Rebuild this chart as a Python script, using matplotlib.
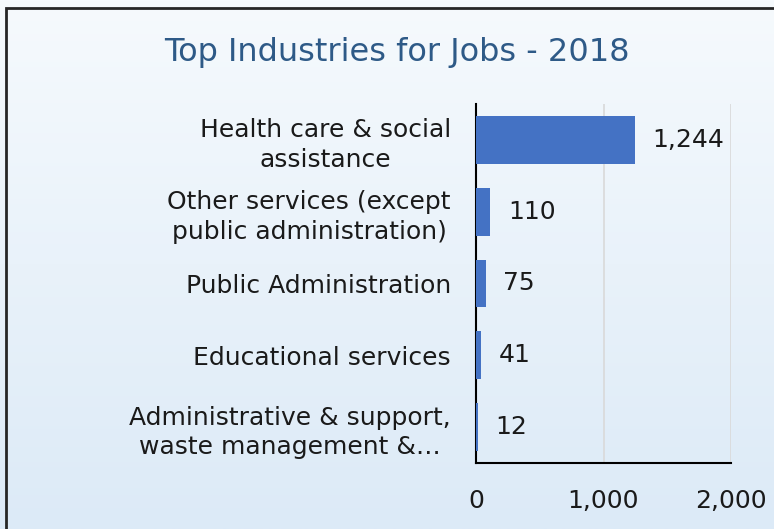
import matplotlib
matplotlib.use('Agg')
import matplotlib.pyplot as plt
import numpy as np
from matplotlib.patches import Rectangle

categories = ['Health care & social\nassistance',
              'Other services (except\npublic administration)',
              'Public Administration',
              'Educational services',
              'Administrative & support,\nwaste management &\u2026']
jobs = [1244, 110, 75, 41, 12]
xticks = [0, 1000, 2000]

plt.rcParams['font.family'] = ['DejaVu Sans']

fig = plt.figure(figsize=(7.74, 5.29), dpi=100)
W, H = 774, 529

# light blue vertical gradient background
bg = fig.add_axes([0, 0, 1, 1], zorder=-10)
grad = np.linspace(0, 1, 256).reshape(-1, 1)
top = np.array([246, 250, 253]) / 255
bot = np.array([220, 234, 247]) / 255
img = top[None, None, :] * (1 - grad[:, :, None]) + bot[None, None, :] * grad[:, :, None]
bg.imshow(img, aspect='auto', extent=[0, 1, 0, 1])
bg.axis('off')

# frame border (continues past right and bottom edges)
fig.patches.append(Rectangle((6 / W, -0.1), 1.2, 1 - 8 / H + 0.1, transform=fig.transFigure,
                             fill=False, edgecolor='#262626', linewidth=2))

ax = fig.add_axes([476 / W, 1 - 463 / H, (731 - 476) / W, (463 - 104) / H])
ax.patch.set_alpha(0)

y = np.arange(len(categories))
ax.barh(y, jobs, height=0.667, color='#4472c4', zorder=3)
ax.set_ylim(len(categories) - 0.5, -0.5)
ax.set_xlim(0, 2000)

for yi, v in zip(y, jobs):
    ax.text(v + 140, yi, f'{v:,}', va='center', ha='left', fontsize=18, color='#1a1a1a')

ax.set_yticks(y)
ax.set_yticklabels(categories, fontsize=18, color='#1a1a1a')
for lab in ax.get_yticklabels():
    lab.set_multialignment('center')
    lab.set_linespacing(1.3)
ax.set_xticks(xticks)
ax.set_xticklabels([f'{t:,}' for t in xticks], fontsize=18, color='#1a1a1a')
ax.tick_params(axis='y', length=0, pad=18)
ax.tick_params(axis='x', length=0, pad=19)

ax.grid(axis='x', color='#d9d9d9', linewidth=1.2, zorder=0)
for s in ['top', 'right']:
    ax.spines[s].set_visible(False)
ax.spines['left'].set_color('black')
ax.spines['bottom'].set_color('black')
ax.spines['left'].set_linewidth(1.5)
ax.spines['bottom'].set_linewidth(1.5)

fig.text(397 / W, 1 - 52 / H, 'Top Industries for Jobs - 2018', ha='center', va='center',
         fontsize=23, color='#2e5a87')

fig.savefig('out.png', dpi=100)
